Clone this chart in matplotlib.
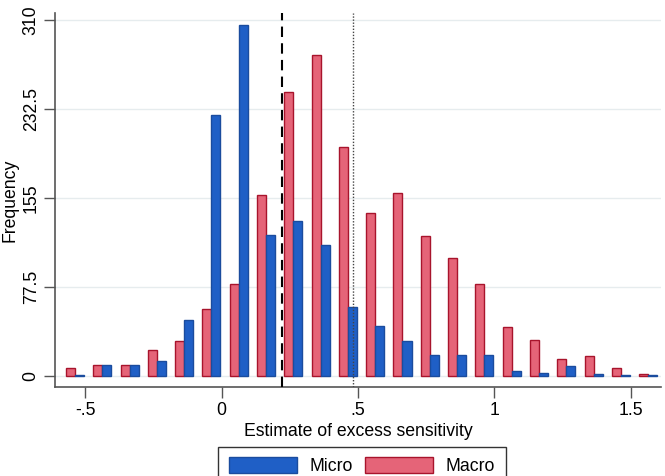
import numpy as np
import matplotlib
matplotlib.use("Agg")
import matplotlib.pyplot as plt
from matplotlib.patches import Patch

plt.rcParams['font.family'] = ['Liberation Sans', 'DejaVu Sans']

# bin pair centres (estimate of excess sensitivity)
bin_centers = [-0.537 + 0.1 * k for k in range(22)]
macro_counts = [7, 10, 10, 23, 31, 59, 80, 158, 248, 280, 200, 142, 160, 122,
                103, 80, 43, 32, 15, 18, 7, 2]
micro_counts = [1, 10, 10, 13, 49, 228, 306, 123, 135, 114, 60, 44, 31, 19,
                19, 19, 5, 3, 9, 2, 1, 1]
x_ticks = [-0.5, 0, 0.5, 1, 1.5]
x_tick_labels = ['-.5', '0', '.5', '1', '1.5']
y_ticks = [0, 77.5, 155, 232.5, 310]
y_tick_labels = ['0', '77.5', '155', '232.5', '310']
dashed_line_x = 0.222
dotted_line_x = 0.482

blue_fill, blue_edge = '#1F5FC6', '#1A4C9E'
red_fill, red_edge = '#E56478', '#A8142C'
fs = 12.7

fig = plt.figure(figsize=(6.65, 4.76), dpi=100)
ax = fig.add_axes([55/665, (476-387)/476, (661-55)/665, (387-13)/476])

w = 0.033
xc = np.array(bin_centers)
ax.bar(xc - w/2, macro_counts, width=w, color=red_fill, edgecolor=red_edge, linewidth=1, zorder=3)
ax.bar(xc + w/2, micro_counts, width=w, color=blue_fill, edgecolor=blue_edge, linewidth=1, zorder=3)

ax.set_xlim(-0.61, 1.61)
ax.set_ylim(-9.3, 316.5)

for yv in y_ticks:
    ax.axhline(yv, color='#E6ECEE', linewidth=1, zorder=1)

ax.axvline(dashed_line_x, color='black', linestyle=(0, (5, 3)), linewidth=1.5, zorder=4)
ax.axvline(dotted_line_x, color='#444444', linestyle=(0, (1, 1.2)), linewidth=1, zorder=4)

ax.set_xticks(x_ticks)
ax.set_xticklabels(x_tick_labels, fontsize=fs)
ax.set_yticks(y_ticks)
ax.set_yticklabels(y_tick_labels, fontsize=fs, rotation=90, va='center')
ax.tick_params(axis='both', direction='out', length=8, width=1, color='#555555', pad=3)

for s in ['top', 'right']:
    ax.spines[s].set_visible(False)
for s in ['left', 'bottom']:
    ax.spines[s].set_color('#555555')
    ax.spines[s].set_linewidth(1.2)

ax.set_xlabel('Estimate of excess sensitivity', fontsize=fs, labelpad=3)
ax.set_ylabel('Frequency', fontsize=fs, labelpad=3)

handles = [Patch(facecolor=blue_fill, edgecolor=blue_edge, label='Micro'),
           Patch(facecolor=red_fill, edgecolor=red_edge, label='Macro')]
leg = fig.legend(handles=handles, loc='upper center', bbox_to_anchor=(362/665, (476-438)/476),
                 ncol=2, fontsize=fs, frameon=True, fancybox=False, edgecolor='black',
                 handlelength=3.85, handleheight=1.0, handletextpad=0.75, columnspacing=0.65,
                 borderpad=0.6)
leg.get_frame().set_linewidth(1)

fig.savefig('out.png', dpi=100)
